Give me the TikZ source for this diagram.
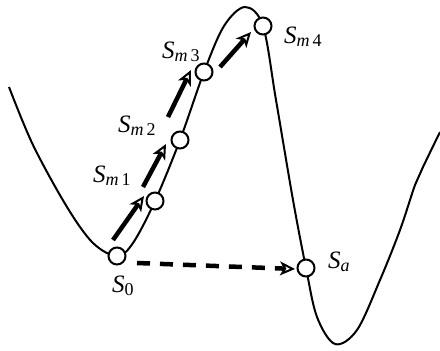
\documentclass[tikz,border=0pt]{standalone}
\usepackage{fontspec}
\newfontfamily\timesf{Liberation Serif}
\usetikzlibrary{arrows.meta}
\newcommand\Slab[1]{\textit{S}\raisebox{-3pt}{\fontsize{18}{18}\selectfont #1}}
\tikzset{
  curve/.style={line width=2pt},
  state/.style={circle, draw, line width=2pt, fill=white, minimum size=17pt, inner sep=0pt},
  lab/.style={anchor=base west, inner sep=0pt, font=\timesf\fontsize{25}{28}\selectfont},
  movearrow/.style={line width=4.5pt, -{Stealth[open, length=15pt, width=14pt, line width=2pt, inset=4pt]}},
  jumparrow/.style={line width=4.5pt, dash pattern=on 13pt off 10pt, -{Stealth[open, length=15pt, width=14pt, line width=2pt, inset=4pt]}}
}
\begin{document}
\begin{tikzpicture}[x=1pt,y=-1pt]
\useasboundingbox (0,0) rectangle (440,351);
\draw[curve] plot[smooth, tension=0.55] coordinates {
  (9,87) (33,145) (67,207) (93,243) (117,256) (133,243) (155,201) (180,140)
  (204,72) (224,26) (245,7) (263,26) (276,100) (293,200) (306,268) (317,317)
  (335,344) (357,330) (380,280) (400,230) (415,185) (423,167) (440,132)};
\node[state] (s0) at (117,256) {};
\node[state] (m1) at (155,201) {};
\node[state] (m2) at (180,140) {};
\node[state] (m3) at (204,72) {};
\node[state] (m4) at (263,26) {};
\node[state] (sa) at (306,268) {};
\coordinate (a1s) at (113,240); \coordinate (a1e) at (144,196);
\coordinate (a2s) at (143,187); \coordinate (a2e) at (166,144);
\coordinate (a3s) at (168,117); \coordinate (a3e) at (191,70);
\coordinate (a4s) at (220,67);  \coordinate (a4e) at (251,32);
\coordinate (djs) at (137,263); \coordinate (dje) at (295,269);
\draw[movearrow] (a1s) -- (a1e);
\draw[movearrow] (a2s) -- (a2e);
\draw[movearrow] (a3s) -- (a3e);
\draw[movearrow] (a4s) -- (a4e);
\draw[jumparrow] (djs) -- (dje);
\node[lab] (l0) at (112,292) {\Slab{0}};
\node[lab] (l1) at (93,182) {\Slab{\textit{m}\,1}};
\node[lab] (l2) at (118,132) {\Slab{\textit{m}\,2}};
\node[lab] (l3) at (162,58) {\Slab{\textit{m}\,3}};
\node[lab] (l4) at (284,43) {\Slab{\textit{m}\,4}};
\node[lab] (la) at (328,268) {\Slab{\textit{a}}};
\end{tikzpicture}
\end{document}
